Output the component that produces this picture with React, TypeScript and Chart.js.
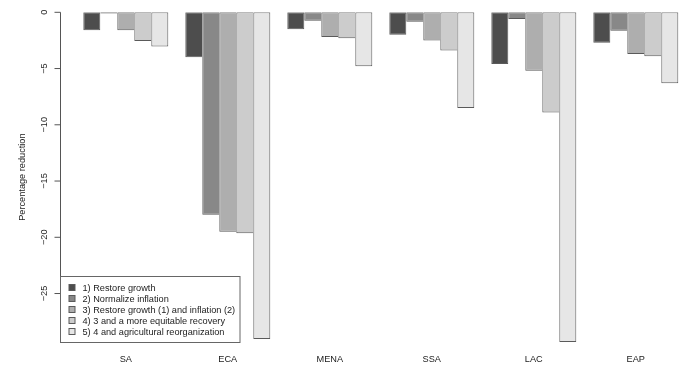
import React, { useEffect, useRef } from "react";
import { Chart, registerables } from "chart.js";

Chart.register(...registerables);

const categories = ["SA", "ECA", "MENA", "SSA", "LAC", "EAP"];
const scenarioLabels = [
  "1) Restore growth",
  "2) Normalize inflation",
  "3) Restore growth (1) and inflation (2)",
  "4) 3 and a more equitable recovery",
  "5) 4 and agricultural reorganization",
];
const restoreGrowth = [-1.6, -4.0, -1.5, -2.0, -4.6, -2.7];
const normalizeInflation = [-0.1, -18.0, -0.75, -0.85, -0.6, -1.65];
const growthAndInflation = [-1.6, -19.5, -2.2, -2.5, -5.2, -3.7];
const equitableRecovery = [-2.55, -19.65, -2.3, -3.4, -8.9, -3.9];
const agriculturalReorg = [-3.05, -29.05, -4.8, -8.5, -29.3, -6.3];
const yTicks = [0, -5, -10, -15, -20, -25];
const yTitle = "Percentage reduction";

const seriesList = [
  restoreGrowth,
  normalizeInflation,
  growthAndInflation,
  equitableRecovery,
  agriculturalReorg,
];
const fills = ["#4D4D4D", "#888888", "#AEAEAE", "#CCCCCC", "#E6E6E6"];
const edge = "#5a5a5a";
const FONT = "9.2px 'Liberation Sans', Arial, Helvetica, sans-serif";

// R barplot(beside=TRUE) geometry: each group = 5 bars + 1 bar of space
const groupSlots = seriesList.length + 1;
const groupCenter = (i: number) => i * groupSlots + 1 + seriesList.length / 2;

const fmtTick = (v: number) => (v === 0 ? "0" : "\u2212" + Math.abs(v));

const decorPlugin = {
  id: "rDecor",
  afterDraw(chart: any) {
    const { ctx, chartArea } = chart;
    const xs = chart.scales.x;
    const ys = chart.scales.y;
    ctx.save();
    const axisX = Math.round(chartArea.left) + 0.5;
    // y axis
    ctx.strokeStyle = "#555";
    ctx.lineWidth = 1;
    ctx.beginPath();
    ctx.moveTo(axisX, ys.getPixelForValue(yTicks[0]));
    ctx.lineTo(axisX, ys.getPixelForValue(yTicks[yTicks.length - 1]));
    yTicks.forEach((v) => {
      const py = ys.getPixelForValue(v);
      ctx.moveTo(axisX - 6, py);
      ctx.lineTo(axisX, py);
    });
    ctx.stroke();
    ctx.fillStyle = "#222";
    ctx.font = FONT;
    ctx.textAlign = "center";
    ctx.textBaseline = "middle";
    yTicks.forEach((v) => {
      const py = ys.getPixelForValue(v);
      ctx.save();
      ctx.translate(axisX - 16, py);
      ctx.rotate(-Math.PI / 2);
      ctx.fillText(fmtTick(v), 0, 0);
      ctx.restore();
    });
    // y title
    ctx.save();
    ctx.translate(22, (chartArea.top + chartArea.bottom) / 2);
    ctx.rotate(-Math.PI / 2);
    ctx.fillText(yTitle, 0, 0);
    ctx.restore();
    // category labels
    categories.forEach((c, i) => {
      ctx.fillText(c, xs.getPixelForValue(groupCenter(i)), chartArea.bottom + 17.5);
    });
    // legend
    const bx = axisX;
    const bw = 179.5;
    const rowH = 11;
    const bh = rowH * (scenarioLabels.length + 1);
    const by = Math.round(chartArea.bottom - bh) + 0.5;
    ctx.strokeStyle = "#666";
    ctx.strokeRect(bx, by, bw, bh);
    ctx.textAlign = "left";
    scenarioLabels.forEach((lab, k) => {
      const cy = by + rowH * (k + 1);
      ctx.fillStyle = fills[k];
      ctx.fillRect(bx + 8.5, cy - 3, 6, 6);
      ctx.strokeStyle = edge;
      ctx.strokeRect(bx + 8.5, cy - 3, 6, 6);
      ctx.fillStyle = "#222";
      ctx.fillText(lab, bx + 22, cy + 0.5);
    });
    ctx.restore();
  },
};

export default function App() {
  const ref = useRef<HTMLCanvasElement | null>(null);
  useEffect(() => {
    if (!ref.current) return;
    const datasets = seriesList.map((vals, d) => ({
      label: scenarioLabels[d],
      data: vals.map((v, i) => ({ x: groupCenter(i), y: v })),
      backgroundColor: fills[d],
      borderColor: edge,
      borderSkipped: false as any,
      borderWidth: (c: any) => {
        const i = c.dataIndex;
        if (i === undefined) return 1;
        const cur = seriesList[d][i];
        const next = d < seriesList.length - 1 ? seriesList[d + 1][i] : null;
        const right = next === null || cur < next ? 1 : 0;
        return { top: 1, bottom: 1, left: 1, right };
      },
      categoryPercentage: seriesList.length / groupSlots,
      barPercentage: 1,
    }));
    const chart = new Chart(ref.current, {
      type: "bar",
      data: { datasets },
      options: {
        animation: false,
        responsive: false,
        maintainAspectRatio: false,
        layout: { padding: { left: 59.5, right: 0, top: 12.3, bottom: 43.1 } },
        plugins: { legend: { display: false }, tooltip: { enabled: false } },
        scales: {
          x: {
            type: "linear",
            display: false,
            offset: false,
            min: -0.4,
            max: -0.4 + 640.5 / 17,
            afterBuildTicks: (s: any) => {
              s.ticks = categories.map((_, i) => ({ value: groupCenter(i) }));
            },
          },
          y: {
            type: "linear",
            display: false,
            min: -29.3,
            max: 0,
          },
        },
      },
      plugins: [decorPlugin],
    } as any);
    return () => chart.destroy();
  }, []);
  return (
    <div style={{ position: "fixed", left: 0, top: 0, width: 700, height: 385, background: "#fff" }}>
      <canvas ref={ref} width={700} height={385} style={{ width: 700, height: 385, display: "block" }} />
    </div>
  );
}
